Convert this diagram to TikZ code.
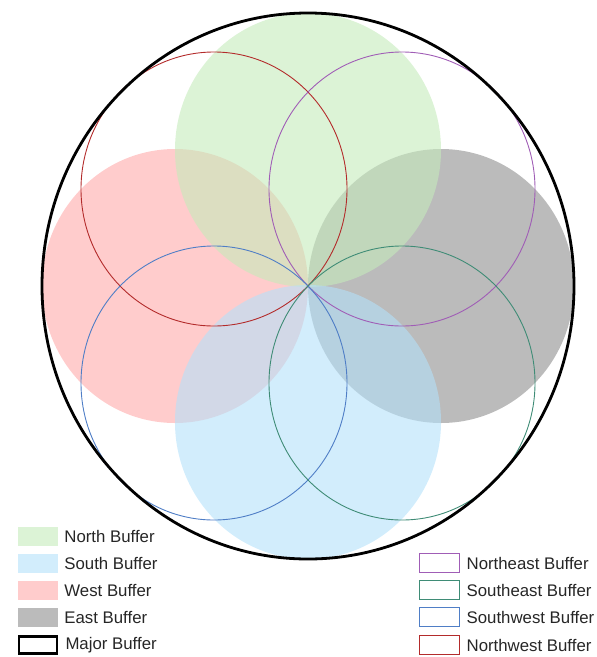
\documentclass[tikz,border=0pt]{standalone}
\usepackage{fontspec}
\setmainfont{Liberation Sans}
\usepackage{xcolor}
\usetikzlibrary{positioning}
\definecolor{NorthFill}{HTML}{C5EBBB}
\definecolor{SouthFill}{HTML}{B4E1FA}
\definecolor{WestFill}{HTML}{FFCCCC}
\definecolor{EastFill}{HTML}{BBBBBB}
\definecolor{NELine}{HTML}{A05DB6}
\definecolor{SELine}{HTML}{3F8C76}
\definecolor{SWLine}{HTML}{4F7EC6}
\definecolor{NWLine}{HTML}{B32B2B}
\definecolor{LegText}{HTML}{262626}

\begin{document}
\begin{tikzpicture}[
  x=1pt,y=-1pt,
  buf/.style={x radius=133pt,y radius=137pt},
  soft/.style={fill opacity=0.6},
  ring/.style={line width=0.9pt},
  patch/.style={minimum width=40pt,minimum height=19pt,inner sep=0pt},
  legtext/.style={inner sep=0pt,font=\fontsize{16.8}{19}\selectfont,text=LegText,anchor=west}
]
\useasboundingbox (0,0) rectangle (597,657);
\coordinate (centre) at (308,286);
% filled buffers
\fill[WestFill] (175,286) ellipse [buf];
\fill[EastFill] (441,286) ellipse [buf];
\fill[NorthFill,soft] (308,150) ellipse [buf];
\fill[SouthFill,soft] (308,422) ellipse [buf];
% diagonal buffers
\draw[ring,NWLine] (214,189) ellipse [buf];
\draw[ring,NELine] (402,189) ellipse [buf];
\draw[ring,SWLine] (214,383) ellipse [buf];
\draw[ring,SELine] (402,383) ellipse [buf];
% major buffer
\draw[line width=2.8pt] (centre) ellipse [x radius=266pt,y radius=273pt];
% legend, left
\node[patch,fill=NorthFill,soft] (npatch) at (38,536) {};
\node[patch,fill=SouthFill,soft] (spatch) at (38,563) {};
\node[patch,fill=WestFill] (wpatch) at (38,590) {};
\node[patch,fill=EastFill] (epatch) at (38,617) {};
\node[patch,draw=black,line width=2.6pt,minimum width=38pt,minimum height=17pt] (mpatch) at (38,645) {};
\node[legtext,right=6pt of npatch] (nlabel) {North Buffer};
\node[legtext,right=6pt of spatch] (slabel) {South Buffer};
\node[legtext,right=6pt of wpatch] (wlabel) {West Buffer};
\node[legtext,right=6pt of epatch] (elabel) {East Buffer};
\node[legtext,right=7pt of mpatch] (mlabel) {Major Buffer};
% legend, right
\node[patch,draw=NELine,line width=0.9pt] (nepatch) at (439,563) {};
\node[patch,draw=SELine,line width=0.9pt] (sepatch) at (439,590) {};
\node[patch,draw=SWLine,line width=0.9pt] (swpatch) at (439,617) {};
\node[patch,draw=NWLine,line width=0.9pt] (nwpatch) at (439,645) {};
\node[legtext,right=7pt of nepatch] (nelabel) {Northeast Buffer};
\node[legtext,right=7pt of sepatch] (selabel) {Southeast Buffer};
\node[legtext,right=7pt of swpatch] (swlabel) {Southwest Buffer};
\node[legtext,right=7pt of nwpatch] (nwlabel) {Northwest Buffer};
\end{tikzpicture}
\end{document}
